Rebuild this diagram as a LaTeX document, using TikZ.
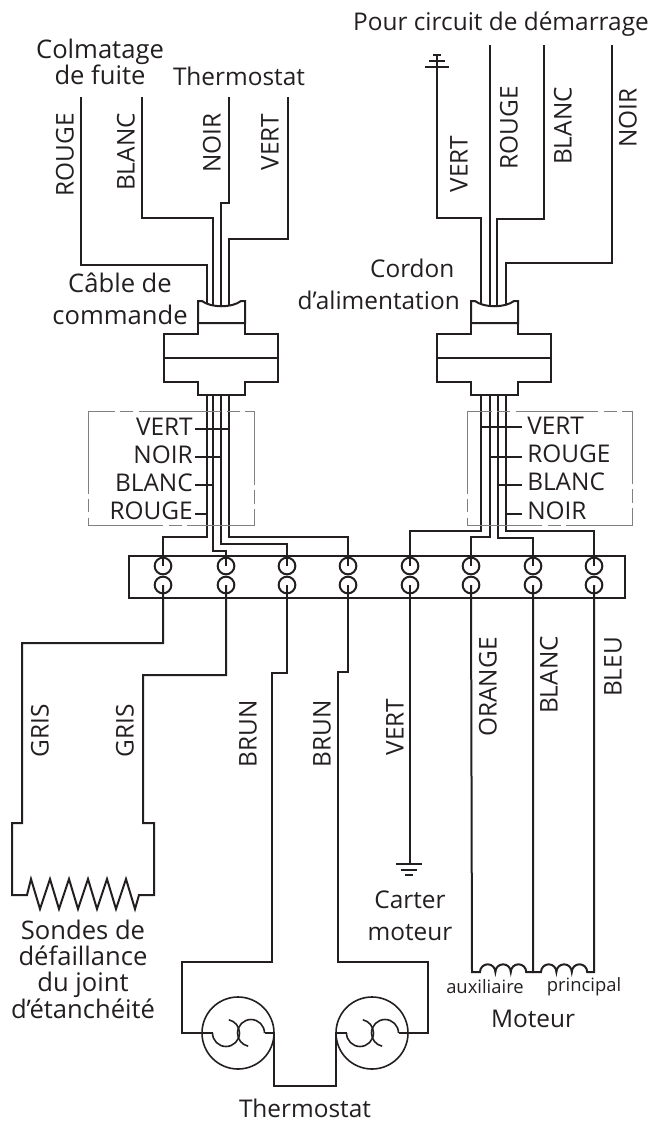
\documentclass[tikz,border=0pt]{standalone}
\usepackage{fontspec}
\setmainfont{Open Sans}
\usepackage{tikz}
\usetikzlibrary{calc,positioning}
\definecolor{inkc}{HTML}{231F20}
\newcommand{\gland}[1]{
    \begin{scope}[shift={(#1,0)}]
    \draw[wire] (198,323) -- (198,301) -- (202,301) .. controls (211,308) and (232,308) .. (241,301) -- (245,301) -- (245,323) -- cycle;
    \draw[wire] (198,323) -- (198,334) -- (164,334) -- (164,381.5) -- (198,381.5) -- (198,395) -- (245,395) -- (245,381.5) -- (278,381.5) -- (278,334) -- (245,334) -- (245,323);
    \draw[wire] (164,358) -- (278,358);
    \end{scope}
}
\newcommand{\bimetal}[1]{
    \begin{scope}[shift={(#1,1033)}]
    \draw[thinwire] (0,0) circle (36);
    \draw[thinwire] (-25.5,0) arc (180:-78:13.5);
    \draw[thinwire] (26.5,0) arc (0:-258:13.5);
    \end{scope}
}
\tikzset{
    wire/.style={line width=1.5pt,color=inkc},
    thinwire/.style={line width=1.2pt,color=inkc},
    leader/.style={line width=0.8pt,color=inkc},
    boxline/.style={line width=0.6pt,color=gray,dash pattern=on 62pt off 4pt on 10pt off 4pt},
    term/.style={circle,draw=inkc,line width=1.5pt,minimum size=12.5pt,inner sep=0pt},
    txt/.style={color=inkc,font=\fontsize{18.3}{21}\selectfont,inner sep=0pt,align=center},
    txtb/.style={txt,font=\fontsize{19.2}{19.8}\selectfont},
    small/.style={color=inkc,font=\fontsize{13.8}{16}\selectfont,inner sep=0pt},
    vlabel/.style={txt,rotate=90},
}
\begin{document}
\begin{tikzpicture}[x=0.75pt,y=-0.75pt]
    \useasboundingbox (0,0) rectangle (662,1124);

    % terminal block
    \draw[wire] (129,556) rectangle (625,598);
    \node[term] (ta1) at (163,566) {};
    \node[term] (tb1) at (163,585) {};
    \node[term] (ta2) at (226,566) {};
    \node[term] (tb2) at (226,585) {};
    \node[term] (ta3) at (287,566) {};
    \node[term] (tb3) at (287,585) {};
    \node[term] (ta4) at (348,566) {};
    \node[term] (tb4) at (348,585) {};
    \node[term] (ta5) at (410,566) {};
    \node[term] (tb5) at (410,585) {};
    \node[term] (ta6) at (471,566) {};
    \node[term] (tb6) at (471,585) {};
    \node[term] (ta7) at (533,566) {};
    \node[term] (tb7) at (533,585) {};
    \node[term] (ta8) at (594,566) {};
    \node[term] (tb8) at (594,585) {};

    % control cable
    \coordinate (LR) at (81,97);
    \coordinate (LB) at (142,97);
    \coordinate (LN) at (229,97);
    \coordinate (LV) at (288,97);
    \draw[wire] (LR) -- (81,265) -| (207,304);
    \draw[wire] (LB) -- (142,218) -| (213,306);
    \draw[wire] (LN) -- (229,203) -- (221,203) -- (221,307);
    \draw[wire] (LV) -- (288,239) -| (229,305);
    \gland{0}
    \draw[wire] (207,395) -- (207,537) -| (ta1.center);
    \draw[wire] (213,395) -- (213,551) -- (226,551) -- (ta2.center);
    \draw[wire] (221,395) -- (221,544) -| (ta3.center);
    \draw[wire] (229,395) -- (229,537) -| (ta4.center);

    % power cord
    \coordinate (RV) at (437,55);
    \coordinate (RR) at (490,45);
    \coordinate (RB) at (544,45);
    \coordinate (RN) at (612,45);
    \draw[wire] (RV) -- (437,218) -| (481,305);
    \draw[wire] (RR) -- (490,307);
    \draw[wire] (RB) -- (544,219) -| (497,307);
    \draw[wire] (RN) -- (612,263) -| (506,305);
    \draw[wire] (425,67) -- (449,67);
    \draw[wire] (429,61) -- (445,61);
    \draw[wire] (433,55) -- (441,55);
    \gland{273}
    \draw[wire] (481,395) -- (481,531) -| (ta5.center);
    \draw[wire] (490,395) -- (490,537) -| (ta6.center);
    \draw[wire] (498,395) -- (498,538) -| (ta7.center);
    \draw[wire] (506,395) -- (506,531) -| (ta8.center);

    % dashed boxes and leaders
    \draw[boxline] (88,411) rectangle (254,525);
    \draw[boxline] (467,411) rectangle (632,525);
    \node[txt,anchor=east] (lvert) at (193,427) {VERT};
    \node[txt,anchor=east] (lnoir) at (193,455) {NOIR};
    \node[txt,anchor=east] (lblanc) at (193,483) {BLANC};
    \node[txt,anchor=east] (lrouge) at (193,511) {ROUGE};
    \draw[leader] (195,429) -- (229,429);
    \draw[leader] (195,457) -- (221,457);
    \draw[leader] (195,485) -- (213,485);
    \draw[leader] (195,514) -- (207,514);
    \node[txt,anchor=west] (rvert) at (527,426) {VERT};
    \node[txt,anchor=west] (rrouge) at (527,454) {ROUGE};
    \node[txt,anchor=west] (rblanc) at (527,482) {BLANC};
    \node[txt,anchor=west] (rnoir) at (527,511) {NOIR};
    \draw[leader] (522,427) -- (481,427);
    \draw[leader] (522,457) -- (490,457);
    \draw[leader] (522,485) -- (498,485);
    \draw[leader] (522,514) -- (506,514);

    % seal failure probes
    \draw[wire] (tb1.center) -- (163,643) -- (22,643) -- (22,823) -- (12,823) -- (12,895) -- (27,895)
      -- (31,879) -- (40,909) -- (50,879) -- (59,909) -- (69,879) -- (78,909) -- (88,879) -- (97,909)
      -- (107,879) -- (116,909) -- (126,879) -- (135,909) -- (139,895) -- (154,895) -- (154,823) -- (143,823)
      -- (143,675) -- (226,675) -- (tb2.center);

    % thermostat
    \bimetal{238}
    \bimetal{372}
    \draw[wire] (tb3.center) -- (287,673) -- (272,673) -- (272,962) -- (182,962) -- (182,1033) -- (212.5,1033);
    \draw[wire] (tb4.center) -- (348,672) -- (338,672) -- (338,962) -- (428,962) -- (428,1033) -- (398.5,1033);
    \draw[wire] (264.5,1033) -- (274,1033) -- (274,1086) -- (336,1086) -- (336,1033) -- (346.5,1033);

    % frame ground
    \draw[wire] (tb5.center) -- (410,864);
    \draw[wire] (396,864) -- (422,864);
    \draw[wire] (401,870) -- (417,870);
    \draw[wire] (405,875) -- (413,875);

    % motor
    \draw[wire] (tb6.center) -- (472,972) -- (480,972) arc (180:360:7.7) arc (180:360:7.7) arc (180:360:7.7) -- (533,972);
    \draw[wire] (tb7.center) -- (533,972) -- (541,972) arc (180:360:7.7) arc (180:360:7.7) arc (180:360:7.7) -- (594,972) -- (tb8.center);

    % texts
    \node[txtb] (colmat) at (100,62) {Colmatage\\de fuite};
    \node[txt] (thermoa) at (239,76) {Thermostat};
    \node[txt] (circuit) at (501,24) {Pour circuit de démarrage};
    \node[txtb] (cable) at (120,299) {Câble de\\[4.5pt]commande};
    \node[txt,align=right,anchor=east] (cordon) at (460,284) {Cordon\kern4pt\\[3pt]d’alimentation};
    \node[txtb] (sondes) at (83,969) {Sondes de\\défaillance\\du joint\\d’étanchéité};
    \node[txt] (carter) at (410,916) {Carter\\[3pt]moteur};
    \node[txt] (thermob) at (305,1108) {Thermostat};
    \node[small] (aux) at (485,987) {auxiliaire};
    \node[small] (princ) at (584,987) {principal};
    \node[txt] (moteur) at (533,1019) {Moteur};

    \node[vlabel] (v1) at (65,155) {ROUGE};
    \node[vlabel] (v2) at (126,152) {BLANC};
    \node[vlabel] (v3) at (212,143) {NOIR};
    \node[vlabel] (v4) at (270,142) {VERT};
    \node[vlabel] (v5) at (459,164) {VERT};
    \node[vlabel] (v6) at (509,128) {ROUGE};
    \node[vlabel] (v7) at (563,126) {BLANC};
    \node[vlabel] (v8) at (628,118) {NOIR};
    \node[vlabel] (v9) at (40,731) {GRIS};
    \node[vlabel] (v10) at (125,731) {GRIS};
    \node[vlabel] (v11) at (248,734) {BRUN};
    \node[vlabel] (v12) at (322,734) {BRUN};
    \node[vlabel] (v13) at (395,727) {VERT};
    \node[vlabel] (v14) at (488,687) {ORANGE};
    \node[vlabel] (v15) at (549,675) {BLANC};
    \node[vlabel] (v16) at (613,667) {BLEU};
\end{tikzpicture}
\end{document}
